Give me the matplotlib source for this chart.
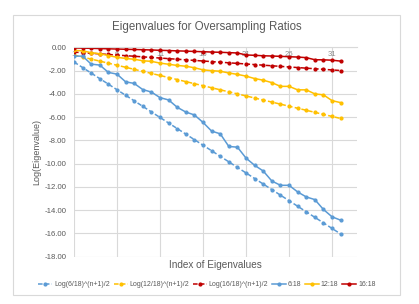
import matplotlib.pyplot as plt
from matplotlib.patches import Rectangle

# index of eigenvalues
idx = list(range(1, 33))

# dashed reference curves: log10(r^(n+1)/2)
ref_6 = [-1.2553, -1.7324, -2.2095, -2.6866, -3.1638, -3.6409, -4.1180, -4.5951,
         -5.0722, -5.5494, -6.0265, -6.5036, -6.9807, -7.4578, -7.9349, -8.4121,
         -8.8892, -9.3663, -9.8434, -10.3205, -10.7976, -11.2748, -11.7519, -12.2290,
         -12.7061, -13.1832, -13.6604, -14.1375, -14.6146, -15.0917, -15.5688, -16.0459]
ref_12 = [-0.6532, -0.8293, -1.0054, -1.1815, -1.3576, -1.5337, -1.7098, -1.8858,
          -2.0619, -2.2380, -2.4141, -2.5902, -2.7663, -2.9424, -3.1185, -3.2946,
          -3.4707, -3.6468, -3.8229, -3.9990, -4.1751, -4.3512, -4.5273, -4.7034,
          -4.8795, -5.0556, -5.2316, -5.4077, -5.5838, -5.7599, -5.9360, -6.1121]
ref_16 = [-0.4033, -0.4545, -0.5056, -0.5568, -0.6079, -0.6591, -0.7102, -0.7614,
          -0.8126, -0.8637, -0.9149, -0.9660, -1.0172, -1.0683, -1.1195, -1.1706,
          -1.2218, -1.2730, -1.3241, -1.3753, -1.4264, -1.4776, -1.5287, -1.5799,
          -1.6310, -1.6822, -1.7333, -1.7845, -1.8357, -1.8868, -1.9380, -1.9891]

# measured eigenvalues
ev_6 = [-0.75, -0.75, -1.44, -1.52, -2.15, -2.30, -2.96, -3.10,
        -3.63, -3.84, -4.32, -4.52, -5.15, -5.56, -5.81, -6.45,
        -7.20, -7.43, -8.52, -8.58, -9.52, -10.14, -10.63, -11.49,
        -11.86, -11.86, -12.43, -12.86, -13.09, -13.94, -14.57, -14.86]
ev_12 = [-0.25, -0.30, -0.45, -0.55, -0.70, -0.85, -0.95, -1.02,
         -1.15, -1.20, -1.35, -1.45, -1.55, -1.62, -1.75, -1.93,
         -2.00, -2.05, -2.20, -2.32, -2.47, -2.68, -2.82, -3.03,
         -3.35, -3.35, -3.65, -3.65, -4.00, -4.08, -4.58, -4.75]
ev_16 = [-0.05, -0.06, -0.08, -0.10, -0.12, -0.14, -0.16, -0.18,
         -0.20, -0.22, -0.25, -0.27, -0.30, -0.32, -0.35, -0.37,
         -0.40, -0.42, -0.45, -0.48, -0.65, -0.68, -0.72, -0.74,
         -0.77, -0.80, -0.83, -0.88, -1.06, -1.07, -1.10, -1.18]

xticks = [1, 6, 11, 16, 21, 26, 31]
yticks = [0, -2, -4, -6, -8, -10, -12, -14, -16, -18]

blue = "#5B9BD5"
orange = "#FFC000"
red = "#C00000"
grid = "#D9D9D9"
txt = "#595959"

plt.rcParams["font.family"] = ["Liberation Sans", "DejaVu Sans"]

fig = plt.figure(figsize=(4.19, 3.04), dpi=100)
fig.patches.append(Rectangle((13 / 419, 1 - 295 / 304), 387 / 419, 280 / 304,
                             transform=fig.transFigure, fill=False,
                             edgecolor=grid, linewidth=0.8))

ax = fig.add_axes([74 / 419, 1 - 256.7 / 304, 283 / 419, 209.3 / 304])

dash = dict(linestyle=(0, (3, 1.5)), linewidth=1.1, marker="o", markersize=2.0)
solid = dict(linestyle="-", linewidth=1.1, marker="o", markersize=2.0)

ax.plot(idx, ref_6, color=blue, label="Log(6/18)^(n+1)/2", **dash)
ax.plot(idx, ref_12, color=orange, label="Log(12/18)^(n+1)/2", **dash)
ax.plot(idx, ref_16, color=red, label="Log(16/18)^(n+1)/2", **dash)
ax.plot(idx, ev_6, color=blue, label="6:18", **solid)
ax.plot(idx, ev_12, color=orange, label="12:18", **solid)
ax.plot(idx, ev_16, color=red, label="16:18", **solid)

ax.set_xlim(1, 33.9)
ax.set_ylim(-18, 0)
ax.set_yticks(yticks)
ax.set_yticklabels([f"{v:.2f}" for v in yticks])
ax.set_xticks(xticks)
ax.set_xticklabels([str(v) for v in xticks])

for s in ["top", "right", "left"]:
    ax.spines[s].set_visible(False)
ax.spines["bottom"].set_position(("data", 0))
ax.spines["bottom"].set_color(grid)
ax.grid(True, color=grid, linewidth=0.8)
ax.set_axisbelow(True)
ax.tick_params(axis="both", length=0, labelsize=5.6, labelcolor=txt)
ax.tick_params(axis="x", pad=2.5, labelcolor="#8c8c8c")
ax.tick_params(axis="y", pad=5.5)

fig.text(207 / 419, 1 - 27 / 304, "Eigenvalues for Oversampling Ratios",
         ha="center", va="center", fontsize=8.3, color=txt)
fig.text(215 / 419, 1 - 265 / 304, "Index of Eigenvalues",
         ha="center", va="center", fontsize=7.2, color=txt)
fig.text(37 / 419, 1 - 152 / 304, "Log(Eigenvalue)", rotation=90,
         ha="center", va="center", fontsize=6.5, color=txt)

fig.legend(loc="center", bbox_to_anchor=(207 / 419, 1 - 285 / 304), ncol=6,
           frameon=False, fontsize=5.0, labelcolor=txt, handlelength=2.0,
           handletextpad=0.3, columnspacing=0.5)

fig.savefig("out.png", dpi=100)
